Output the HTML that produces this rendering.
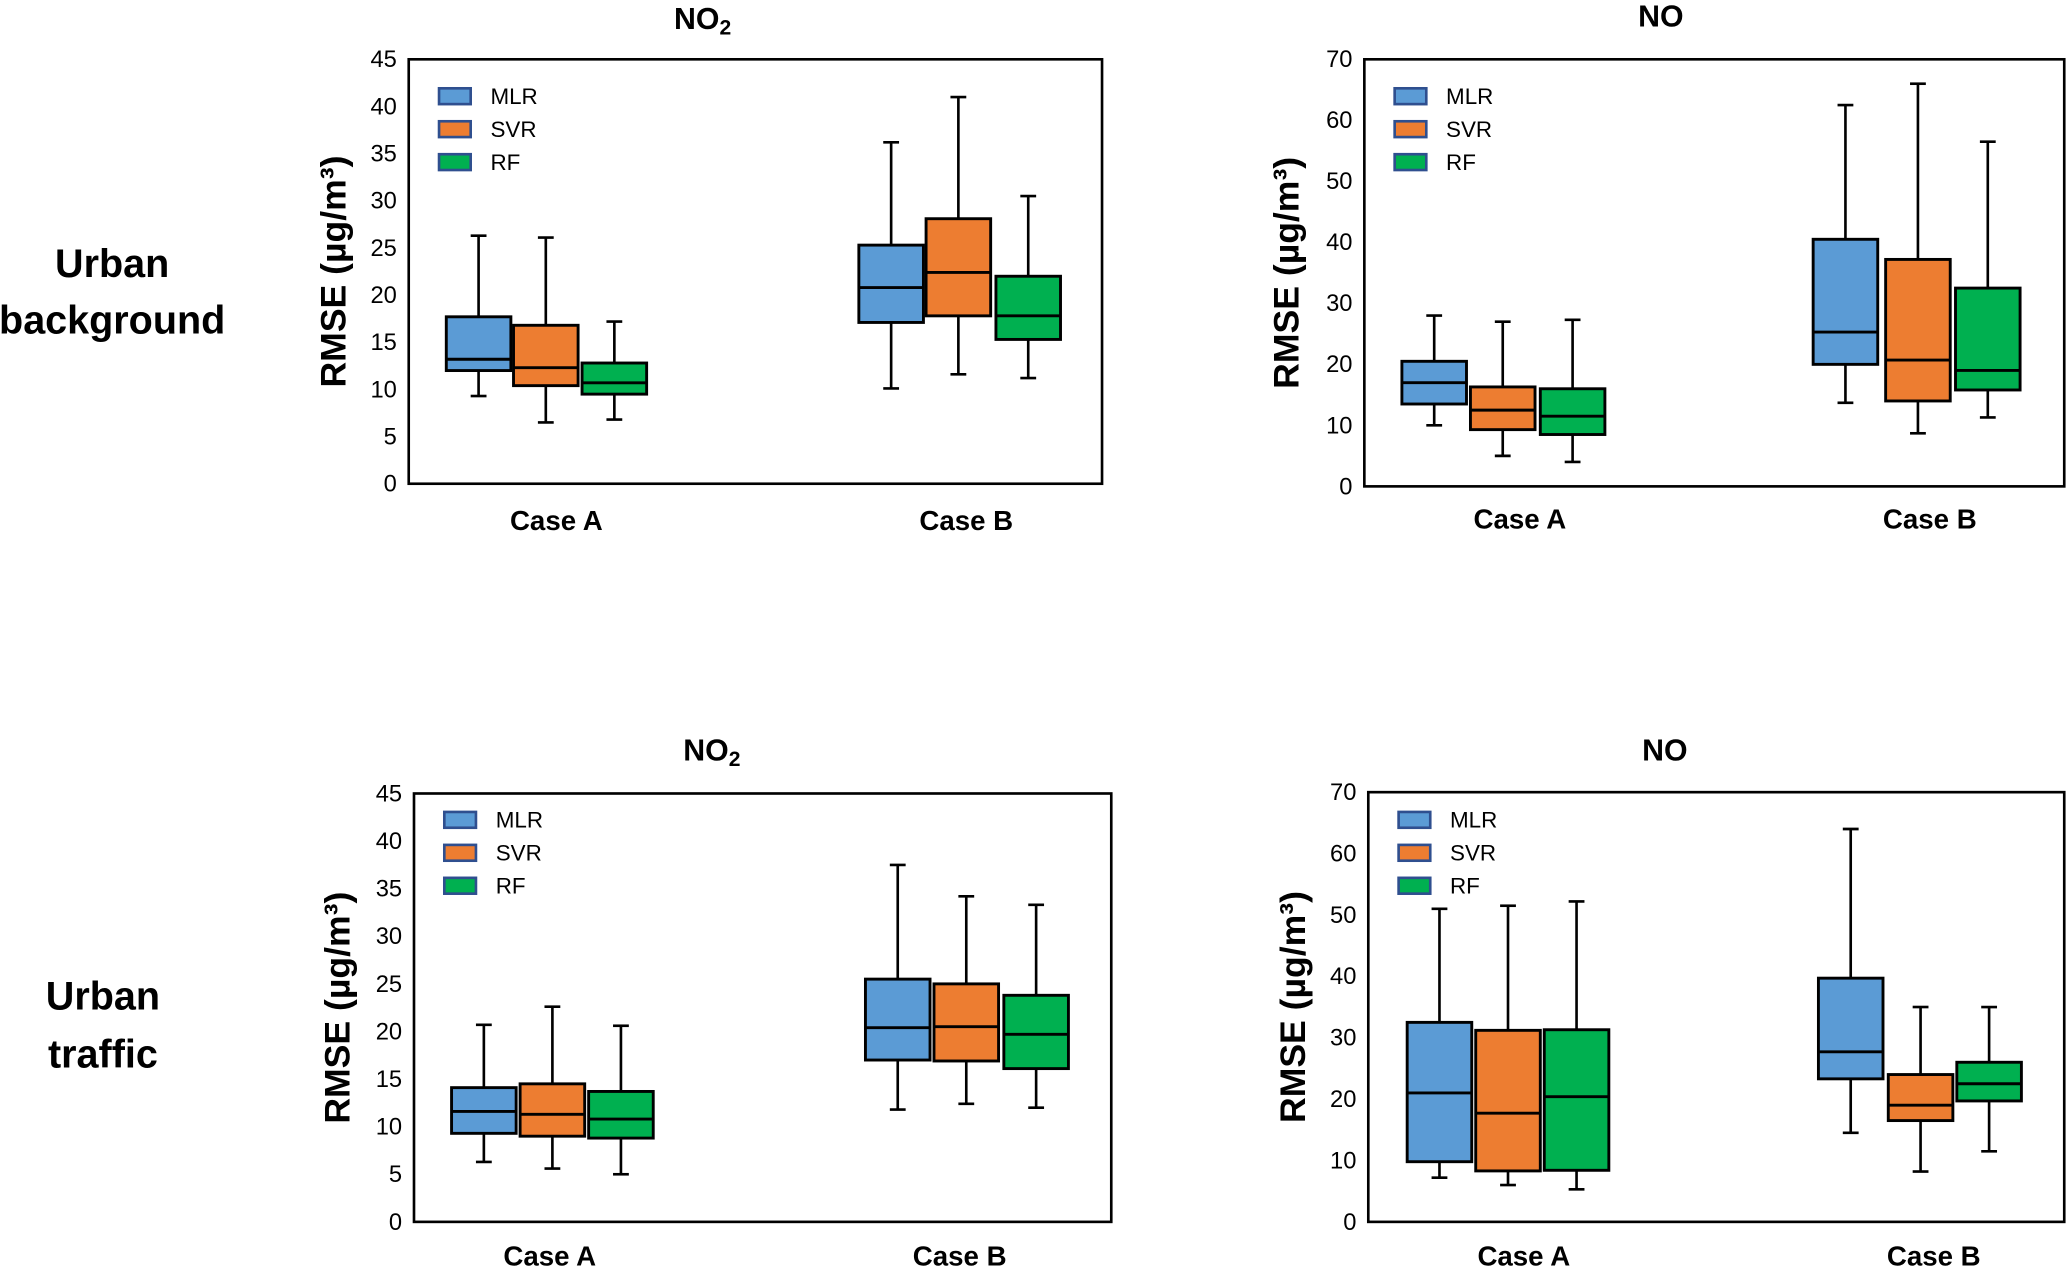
<!DOCTYPE html>
<html><head><meta charset="utf-8"><style>
html,body{margin:0;padding:0;background:#fff}
svg{display:block}
text{font-family:"Liberation Sans",sans-serif}
</style></head><body>
<svg id="fig" width="2067" height="1268" viewBox="0 0 1568 962" xmlns="http://www.w3.org/2000/svg">
<text x="85" y="210" text-anchor="middle" font-size="30" font-weight="bold">Urban</text>
<text x="85" y="253" text-anchor="middle" font-size="30" font-weight="bold">background</text>
<text x="78" y="766" text-anchor="middle" font-size="30" font-weight="bold">Urban</text>
<text x="78" y="810" text-anchor="middle" font-size="30" font-weight="bold">traffic</text>
</svg>
<script>
const categories = ["Case A","Case B"];
const models = ["MLR","SVR","RF"];
const colors = ["#5b9bd5","#ed7d31","#00b050"];
// each box: [whiskerLow, Q1, median, Q3, whiskerHigh]
const p1Data = [[[9.3,12,13.2,17.7,26.3],[6.5,10.4,12.3,16.8,26.1],[6.8,9.5,10.7,12.8,17.2]],
                [[10.1,17.1,20.8,25.3,36.2],[11.6,17.8,22.4,28.1,41],[11.2,15.3,17.8,22.0,30.5]]];
const p2Data = [[[10,13.5,17,20.5,28],[5,9.3,12.5,16.3,27],[4,8.5,11.5,16,27.3]],
                [[13.7,20,25.3,40.5,62.5],[8.7,14,20.7,37.2,66],[11.3,15.8,19,32.5,56.5]]];
const p3Data = [[[6.3,9.3,11.6,14.1,20.7],[5.6,9,11.3,14.5,22.6],[5,8.8,10.8,13.7,20.6]],
                [[11.8,17,20.4,25.5,37.5],[12.4,16.9,20.5,25.0,34.2],[12,16.1,19.7,23.8,33.3]]];
const p4Data = [[[7.2,9.8,21,32.5,51],[6,8.3,17.7,31.2,51.5],[5.3,8.4,20.4,31.3,52.2]],
                [[14.5,23.3,27.7,39.7,64],[8.2,16.5,19,24,35],[11.5,19.7,22.5,26,35]]];
const ticksNO2 = [0,5,10,15,20,25,30,35,40,45];
const ticksNO = [0,10,20,30,40,50,60,70];

const NS="http://www.w3.org/2000/svg";
const svg=document.getElementById('fig');
function mk(tag,attrs,parent){const e=document.createElementNS(NS,tag);for(const k in attrs)e.setAttribute(k,attrs[k]);(parent||svg).appendChild(e);return e;}

const panels=[
 {x0:310,x1:836,y0:45,y1:367,data:p1Data,ticks:ticksNO2,max:45,title:"NO2",tx:533,ty:22,centers:[[363,414,466],[676,727,780]],cat:[422,733],caty:402,ylx:262,lgy:67,id:"no2-urban-background"},
 {x0:1035,x1:1566,y0:45,y1:369,data:p2Data,ticks:ticksNO,max:70,title:"NO",tx:1260,ty:20,centers:[[1088,1140,1193],[1400,1455,1508]],cat:[1153,1464],caty:401,ylx:985,lgy:67,id:"no-urban-background"},
 {x0:314,x1:843,y0:602,y1:927,data:p3Data,ticks:ticksNO2,max:45,title:"NO2",tx:540,ty:577,centers:[[367,419,471],[681,733,786]],cat:[417,728],caty:960,ylx:265,lgy:616,id:"no2-urban-traffic"},
 {x0:1038,x1:1566,y0:601,y1:927,data:p4Data,ticks:ticksNO,max:70,title:"NO",tx:1263,ty:577,centers:[[1092,1144,1196],[1404,1457,1509]],cat:[1156,1467],caty:960,ylx:990,lgy:616,id:"no-urban-traffic"}
];
const bw=49;
panels.forEach(p=>{
  const g=mk('g',{});
  
  
  const y=v=>p.y1-(v/p.max)*(p.y1-p.y0);
  const fr=mk('rect',{x:p.x0,y:p.y0,width:p.x1-p.x0,height:p.y1-p.y0,fill:'none',stroke:'#000','stroke-width':2},g);
  
  
  p.ticks.forEach(t=>{
    const tl=mk('text',{x:p.x0-9,y:y(t)+6,'text-anchor':'end','font-size':18},g);
    
    
    tl.textContent=t;
  });
  const tt=mk('text',{x:p.tx,y:p.ty,'text-anchor':'middle','font-size':23,'font-weight':'bold'},g);
  
  
  if(p.title==="NO2"){tt.innerHTML='NO<tspan font-size="16" dy="4">2</tspan>';}else tt.textContent=p.title;
  const yl=mk('text',{x:0,y:0,'text-anchor':'middle','font-size':27,'font-weight':'bold',transform:`translate(${p.ylx},${(p.y0+p.y1)/2}) rotate(-90)`},g);
  
  
  yl.textContent='RMSE (µg/m³)';
  categories.forEach((c,ci)=>{
    const cl=mk('text',{x:p.cat[ci],y:p.caty,'text-anchor':'middle','font-size':21,'font-weight':'bold'},g);
    
    
    cl.textContent=c;
    models.forEach((m,mi)=>{
      const d=p.data[ci][mi], cx=p.centers[ci][mi];
      const bg=mk('g',{},g);
      
      
      mk('line',{x1:cx,x2:cx,y1:y(d[0]),y2:y(d[4]),stroke:'#000','stroke-width':2},bg);
      mk('line',{x1:cx-6,x2:cx+6,y1:y(d[0]),y2:y(d[0]),stroke:'#000','stroke-width':2},bg);
      mk('line',{x1:cx-6,x2:cx+6,y1:y(d[4]),y2:y(d[4]),stroke:'#000','stroke-width':2},bg);
      mk('rect',{x:cx-bw/2,y:y(d[3]),width:bw,height:y(d[1])-y(d[3]),fill:colors[mi],stroke:'#000','stroke-width':2.2},bg);
      mk('line',{x1:cx-bw/2,x2:cx+bw/2,y1:y(d[2]),y2:y(d[2]),stroke:'#000','stroke-width':2.2},bg);
    });
  });
  models.forEach((m,mi)=>{
    const lg=mk('g',{},g);
    
    
    const ly=p.lgy+mi*25;
    mk('rect',{x:p.x0+23,y:ly,width:24,height:12,fill:colors[mi],stroke:'#2f4f8f','stroke-width':2},lg);
    const lt=mk('text',{x:p.x0+62,y:ly+12,'font-size':17},lg);
    lt.textContent=m;
  });
});
</script>
</body></html>
